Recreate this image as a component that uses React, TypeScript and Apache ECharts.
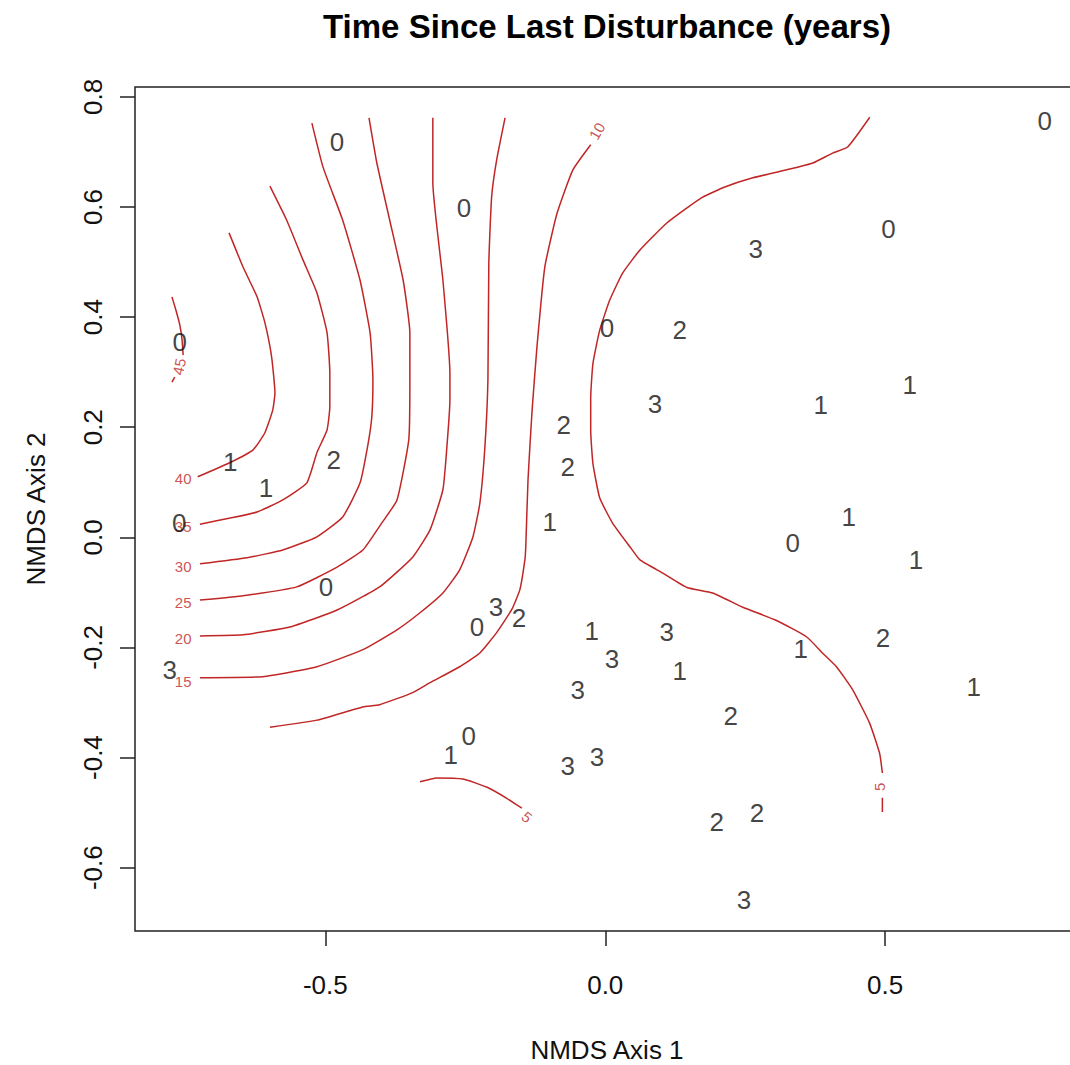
import React, { useEffect, useRef } from "react";
import * as echarts from "echarts";

const FONT = "'Liberation Sans', Arial, Helvetica, sans-serif";
const RED = "#c02626";
const INK = "#111111";

// Site scores (NMDS axis 1, NMDS axis 2) and the plotted value (years since disturbance)
const ptX = [-0.479, -0.2525, 0.785, 0.269, 0.506, -0.760, 0.003, 0.133, 0.089, 0.385, 0.544, -0.074, -0.067, -0.670, -0.485, -0.606, -0.761, -0.099, 0.435, 0.335, 0.555, -0.499, -0.195, -0.229, -0.154, -0.024, 0.110, 0.012, 0.133, 0.349, 0.496, -0.778, -0.049, 0.658, 0.224, -0.244, -0.276, -0.067, -0.015, 0.199, 0.271, 0.248];
const ptY = [0.718, 0.598, 0.756, 0.524, 0.560, 0.355, 0.380, 0.377, 0.242, 0.240, 0.277, 0.204, 0.128, 0.137, 0.141, 0.090, 0.026, 0.028, 0.037, -0.010, -0.041, -0.090, -0.126, -0.163, -0.146, -0.170, -0.172, -0.221, -0.243, -0.203, -0.183, -0.241, -0.277, -0.272, -0.324, -0.361, -0.395, -0.415, -0.399, -0.517, -0.500, -0.658];
const ptLabel = ["0", "0", "0", "3", "0", "0", "0", "2", "3", "1", "1", "2", "2", "1", "2", "1", "0", "1", "1", "0", "1", "0", "3", "0", "2", "1", "3", "3", "1", "1", "2", "3", "3", "1", "2", "0", "1", "3", "3", "2", "2", "3"];

// Contour lines of the fitted surface
const c45 = [[-0.774, 0.4365], [-0.767, 0.413], [-0.760, 0.386], [-0.756, 0.359], [-0.754, 0.331]];
const c45tail = [[-0.769, 0.291], [-0.774, 0.282]];
const c40 = [[-0.672, 0.553], [-0.647, 0.491], [-0.622, 0.437], [-0.608, 0.390], [-0.596, 0.328], [-0.590, 0.262], [-0.594, 0.231], [-0.608, 0.190], [-0.629, 0.159], [-0.670, 0.136], [-0.728, 0.110]];
const c35 = [[-0.599, 0.638], [-0.569, 0.576], [-0.540, 0.504], [-0.515, 0.444], [-0.497, 0.372], [-0.492, 0.299], [-0.492, 0.237], [-0.497, 0.195], [-0.515, 0.154], [-0.533, 0.099], [-0.576, 0.068], [-0.622, 0.046], [-0.670, 0.035], [-0.724, 0.024]];
const c30 = [[-0.524, 0.7525], [-0.504, 0.672], [-0.469, 0.576], [-0.438, 0.467], [-0.420, 0.371], [-0.415, 0.286], [-0.417, 0.219], [-0.424, 0.168], [-0.438, 0.099], [-0.469, 0.037], [-0.515, 0.001], [-0.576, -0.023], [-0.640, -0.037], [-0.724, -0.048]];
const c25 = [[-0.422, 0.762], [-0.408, 0.680], [-0.385, 0.576], [-0.361, 0.467], [-0.349, 0.371], [-0.349, 0.286], [-0.351, 0.177], [-0.372, 0.068], [-0.400, 0.025], [-0.433, -0.023], [-0.479, -0.054], [-0.551, -0.090], [-0.640, -0.105], [-0.724, -0.114]];
const c20 = [[-0.308, 0.762], [-0.308, 0.644], [-0.290, 0.467], [-0.2775, 0.298], [-0.2775, 0.249], [-0.283, 0.163], [-0.290, 0.0865], [-0.313, 0.0135], [-0.3436, -0.0355], [-0.403, -0.090], [-0.479, -0.132], [-0.5635, -0.163], [-0.647, -0.177], [-0.724, -0.179]];
const c15 = [[-0.179, 0.762], [-0.194, 0.6855], [-0.203, 0.618], [-0.208, 0.498], [-0.2096, 0.286], [-0.215, 0.164], [-0.224, 0.062], [-0.2364, 0.0007], [-0.260, -0.059], [-0.290, -0.101], [-0.331, -0.137], [-0.372, -0.168], [-0.433, -0.204], [-0.515, -0.235], [-0.612, -0.253], [-0.724, -0.255]];
const c10 = [[-0.026, 0.713], [-0.058, 0.667], [-0.086, 0.589], [-0.108, 0.491], [-0.122, 0.346], [-0.131, 0.226], [-0.138, 0.104], [-0.142, -0.017], [-0.1436, -0.041], [-0.1525, -0.095], [-0.167, -0.131], [-0.194, -0.173], [-0.224, -0.210], [-0.260, -0.235], [-0.313, -0.264], [-0.344, -0.282], [-0.403, -0.304], [-0.433, -0.308], [-0.515, -0.332], [-0.599, -0.345]];
const c5 = [[0.4725, 0.763], [0.433, 0.709], [0.406, 0.698], [0.371, 0.680], [0.330, 0.669], [0.2636, 0.653], [0.210, 0.635], [0.169, 0.615], [0.110, 0.571], [0.062, 0.522], [0.031, 0.480], [0.008, 0.431], [-0.010, 0.376], [-0.022, 0.316], [-0.026, 0.2535], [-0.026, 0.194], [-0.022, 0.134], [-0.010, 0.072], [0.013, 0.026], [0.044, -0.017], [0.062, -0.041], [0.103, -0.065], [0.146, -0.091], [0.192, -0.101], [0.2457, -0.127], [0.306, -0.151], [0.360, -0.181], [0.388, -0.210], [0.413, -0.235], [0.442, -0.277], [0.472, -0.337], [0.490, -0.392], [0.495, -0.428]];
const c5tail = [[0.495, -0.473], [0.495, -0.499]];
const c5small = [[-0.331, -0.444], [-0.301, -0.437], [-0.254, -0.439], [-0.211, -0.454], [-0.176, -0.474], [-0.149, -0.492]];

// Contour labels
const cLabText = ["45", "40", "35", "30", "25", "20", "15", "10", "5", "5"];
const cLabX = [-0.761, -0.754, -0.754, -0.754, -0.754, -0.754, -0.754, -0.015, 0.490, -0.140];
const cLabY = [0.310, 0.106, 0.019, -0.053, -0.119, -0.184, -0.261, 0.738, -0.453, -0.508];
const cLabAngle = [78, 0, 0, 0, 0, 0, 0, 60, 90, -40];

// Axis ticks
const xTicks = [-0.5, 0, 0.5];
const yTicks = [-0.6, -0.4, -0.2, 0, 0.2, 0.4, 0.6, 0.8];

const contours = [c45, c45tail, c40, c35, c30, c25, c20, c15, c10, c5, c5tail, c5small];

export default function App() {
  const ref = useRef<HTMLDivElement>(null);
  useEffect(() => {
    if (!ref.current) return;
    const chart = echarts.init(ref.current, null, { renderer: "svg" });
    const option: any = {
      animation: false,
      backgroundColor: "#ffffff",
      grid: {
        left: 135,
        top: 87,
        width: 945,
        height: 844,
        show: true,
        borderColor: "#222",
        borderWidth: 1.5,
        backgroundColor: "transparent",
      },
      xAxis: {
        type: "value",
        min: -0.84,
        max: 0.848,
        splitLine: { show: false },
        axisLine: { show: false, onZero: false },
        axisTick: {
          show: true,
          length: 15,
          customValues: xTicks,
          lineStyle: { color: "#222", width: 1.5 },
        },
        axisLabel: {
          customValues: xTicks,
          formatter: (v: number) => v.toFixed(1),
          fontSize: 26,
          fontFamily: FONT,
          color: INK,
          margin: 41,
        },
      },
      yAxis: {
        type: "value",
        min: -0.715,
        max: 0.818,
        splitLine: { show: false },
        axisLine: { show: false, onZero: false },
        axisTick: {
          show: true,
          length: 15,
          customValues: yTicks,
          lineStyle: { color: "#222", width: 1.5 },
        },
        axisLabel: {
          customValues: yTicks,
          formatter: (v: number) => v.toFixed(1),
          fontSize: 26,
          fontFamily: FONT,
          color: INK,
          rotate: 90,
          margin: 29,
        },
      },
      graphic: [
        {
          type: "text",
          x: 607,
          y: 26,
          style: {
            text: "Time Since Last Disturbance (years)",
            fontSize: 33,
            fontWeight: "bold",
            fontFamily: FONT,
            fill: "#000",
            align: "center",
            verticalAlign: "middle",
          },
        },
        {
          type: "text",
          x: 607,
          y: 1050,
          style: {
            text: "NMDS Axis 1",
            fontSize: 26,
            fontFamily: FONT,
            fill: INK,
            align: "center",
            verticalAlign: "middle",
          },
        },
        {
          type: "text",
          x: 36,
          y: 509,
          rotation: Math.PI / 2,
          style: {
            text: "NMDS Axis 2",
            fontSize: 26,
            fontFamily: FONT,
            fill: INK,
            align: "center",
            verticalAlign: "middle",
          },
        },
      ],
      series: [
        ...contours.map((c) => ({
          type: "line",
          data: c,
          symbol: "none",
          showSymbol: false,
          silent: true,
          smooth: 0.15,
          lineStyle: { color: RED, width: 1.5 },
          z: 2,
        })),
        {
          type: "scatter",
          silent: true,
          symbolSize: 1,
          itemStyle: { color: "rgba(0,0,0,0)" },
          data: cLabText.map((t, i) => ({
            value: [cLabX[i], cLabY[i]],
            name: t,
            label: { rotate: cLabAngle[i] },
          })),
          label: {
            show: true,
            position: "inside",
            formatter: (p: any) => p.name,
            fontSize: 15,
            fontFamily: FONT,
            color: RED,
          },
          z: 3,
        },
        {
          type: "scatter",
          silent: true,
          symbolSize: 1,
          itemStyle: { color: "rgba(0,0,0,0)" },
          data: ptLabel.map((t, i) => ({ value: [ptX[i], ptY[i]], name: t })),
          label: {
            show: true,
            position: "inside",
            formatter: (p: any) => p.name,
            fontSize: 26,
            fontFamily: FONT,
            color: INK,
          },
          z: 4,
        },
      ],
    };
    chart.setOption(option);
    return () => chart.dispose();
  }, []);
  return (
    <div
      style={{
        position: "fixed",
        left: 0,
        top: 0,
        width: 1070,
        height: 1065,
        overflow: "hidden",
        background: "#fff",
      }}
    >
      <div ref={ref} style={{ width: 1100, height: 1065 }} />
    </div>
  );
}
